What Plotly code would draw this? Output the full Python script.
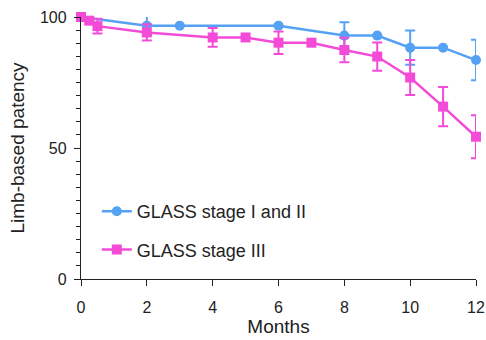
import plotly.graph_objects as go

months_a = [0, 2, 3, 6, 8, 9, 10, 11, 12]
patency_a = [100, 96.7, 96.7, 96.7, 92.9, 92.9, 88.3, 88.3, 83.6]
err_a = [None, 3.8, None, None, 5.1, None, 6.5, None, 7.7]

months_b = [0, 0.25, 0.5, 2, 4, 5, 6, 7, 8, 9, 10, 11, 12]
patency_b = [100, 98.6, 96.5, 94.1, 92.2, 92.2, 90.2, 90.2, 87.4, 84.9, 76.9, 65.8, 54.3]
err_b = [None, None, 2.8, 3.1, 3.6, None, 4.3, None, 4.7, 5.4, 6.7, 7.5, 8.2]

series_names = ["GLASS stage I and II", "GLASS stage III"]
x_ticks = [0, 2, 4, 6, 8, 10, 12]
y_ticks = [0, 50, 100]

blue = "#55A2F5"
pink = "#F34BD7"
font = "Liberation Sans, Arial, sans-serif"

fig = go.Figure()
fig.add_trace(go.Scatter(
    x=months_a, y=patency_a, name=series_names[0], mode="lines+markers",
    line=dict(color=blue, width=2.5), marker=dict(symbol="circle", size=10, color=blue),
    error_y=dict(type="data", array=err_a, visible=True, color=blue, thickness=2, width=5),
    cliponaxis=False, legendgroup="a"))
fig.add_trace(go.Scatter(
    x=months_b, y=patency_b, name=series_names[1], mode="lines+markers",
    line=dict(color=pink, width=2.5), marker=dict(symbol="square", size=10, color=pink),
    error_y=dict(type="data", array=err_b, visible=True, color=pink, thickness=2, width=5),
    cliponaxis=False, legendgroup="b"))

fig.update_layout(
    width=486, height=340,
    margin=dict(l=81, r=10, t=17, b=61, autoexpand=False),
    paper_bgcolor="white", plot_bgcolor="white",
    font=dict(family=font, size=16, color="#222"),
    showlegend=True,
    legend=dict(x=0.04, y=0.042, xanchor="left", yanchor="bottom",
                bgcolor="rgba(0,0,0,0)", font=dict(size=18, color="#222"),
                traceorder="grouped", tracegroupgap=12),
    xaxis=dict(range=[0, 12], tickvals=x_ticks, ticks="outside", ticklen=6, tickwidth=1.3,
               showline=True, linecolor="#222", linewidth=1.3, showgrid=False, zeroline=False,
               ticklabelstandoff=8,
               title=dict(text="Months", standoff=4), tickcolor="#222"),
    yaxis=dict(range=[0, 100], tickvals=y_ticks, ticks="outside", ticklen=6, tickwidth=1.3,
               showline=True, linecolor="#222", linewidth=1.3, showgrid=False, zeroline=False,
               ticklabelstandoff=4,
               title=dict(text="Limb-based patency", standoff=10), tickcolor="#222",
               minor=dict(dtick=5, ticks="outside", ticklen=4, tickwidth=1.2, tickcolor="#222")),
)

fig.write_html("out.html")
